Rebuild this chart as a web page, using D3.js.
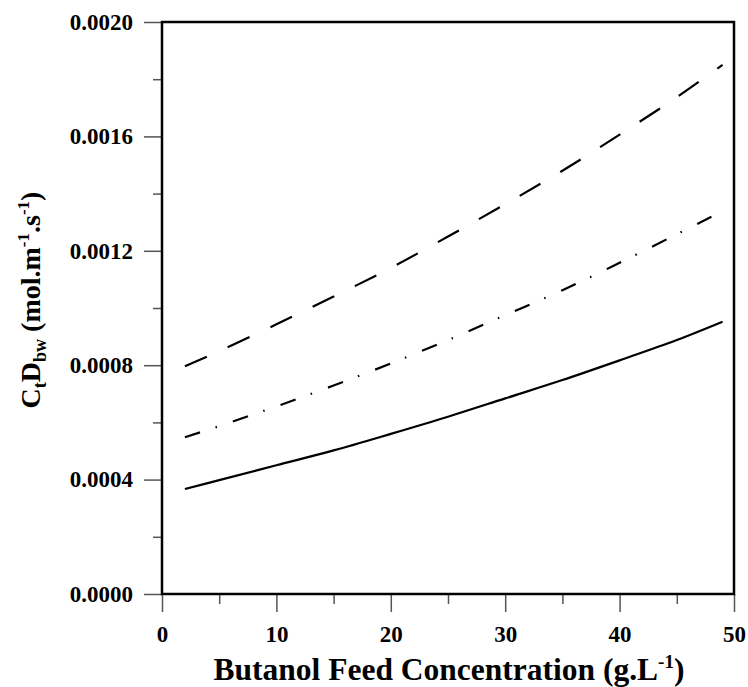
<!DOCTYPE html>
<html>
<head>
<meta charset="utf-8">
<script src="https://cdn.jsdelivr.net/npm/d3@7/dist/d3.min.js"></script>
<style>
  html, body { margin: 0; padding: 0; background: #fff; }
  svg { display: block; }
  text { font-family: "Liberation Serif", "Times New Roman", serif; font-weight: bold; fill: #000; }
</style>
</head>
<body>
<svg id="chart" width="748" height="687"></svg>
<script>
// ---- data ----
const feedConc = [2, 5, 10, 15, 20, 25, 30, 35, 40, 45, 49];
const dashedSeries  = [0.000796, 0.000849, 0.000943, 0.001040, 0.001140, 0.001250, 0.001363, 0.001480, 0.001606, 0.001737, 0.001850];
const dashDotSeries = [0.000548, 0.000587, 0.000656, 0.000729, 0.000806, 0.000888, 0.000975, 0.001062, 0.001158, 0.001258, 0.001339];
const solidSeries   = [0.000367, 0.000398, 0.000450, 0.000502, 0.000560, 0.000620, 0.000684, 0.000748, 0.000817, 0.000888, 0.000952];
const xTickValues = [0, 10, 20, 30, 40, 50];
const xMinorTicks = [5, 15, 25, 35, 45];
const yTickValues = [0, 0.0004, 0.0008, 0.0012, 0.0016, 0.0020];
const yMinorTicks = [0.0002, 0.0006, 0.0010, 0.0014, 0.0018];

const series = [
  { values: dashedSeries,  dash: "24,23" },
  { values: dashDotSeries, dash: "16,16,1.5,17" },
  { values: solidSeries,   dash: null }
];

// ---- layout ----
const svg = d3.select("#chart");
const mLeft = 162, mRight = 734, mTop = 22, mBottom = 594;

const x = d3.scaleLinear().domain([0, 50]).range([mLeft, mRight]);
const y = d3.scaleLinear().domain([0, 0.002]).range([mBottom, mTop]);

// minor ticks
svg.append("g")
  .attr("transform", `translate(0,${mBottom})`)
  .call(d3.axisBottom(x).tickValues(xMinorTicks).tickSize(10).tickFormat(""))
  .call(g => g.select(".domain").remove())
  .call(g => g.selectAll("line").attr("stroke", "#555").attr("stroke-width", 1.5));
svg.append("g")
  .attr("transform", `translate(${mLeft},0)`)
  .call(d3.axisLeft(y).tickValues(yMinorTicks).tickSize(9).tickFormat(""))
  .call(g => g.select(".domain").remove())
  .call(g => g.selectAll("line").attr("stroke", "#555").attr("stroke-width", 1.5));

// major ticks
const xAxis = svg.append("g")
  .attr("transform", `translate(0,${mBottom})`)
  .call(d3.axisBottom(x).tickValues(xTickValues).tickSize(18).tickPadding(14).tickFormat(d3.format("d")))
  .call(g => g.select(".domain").remove());
xAxis.selectAll("line").attr("stroke", "#555").attr("stroke-width", 1.5);
xAxis.selectAll("text").attr("font-size", 23).attr("font-family", "Liberation Serif").attr("font-weight", "bold").attr("fill", "#000");

const yAxis = svg.append("g")
  .attr("transform", `translate(${mLeft},0)`)
  .call(d3.axisLeft(y).tickValues(yTickValues).tickSize(18).tickPadding(11).tickFormat(d3.format(".4f")))
  .call(g => g.select(".domain").remove());
yAxis.selectAll("line").attr("stroke", "#555").attr("stroke-width", 1.5);
yAxis.selectAll("text").attr("font-size", 23).attr("font-family", "Liberation Serif").attr("font-weight", "bold").attr("fill", "#000");

// frame
svg.append("rect")
  .attr("x", mLeft).attr("y", mTop)
  .attr("width", mRight - mLeft).attr("height", mBottom - mTop)
  .attr("fill", "none").attr("stroke", "#000").attr("stroke-width", 2.5);

// lines
const line = d3.line()
  .x((d, i) => x(feedConc[i]))
  .y(d => y(d))
  .curve(d3.curveCatmullRom.alpha(0.5));

series.forEach(s => {
  svg.append("path")
    .datum(s.values)
    .attr("d", line)
    .attr("fill", "none")
    .attr("stroke", "#000")
    .attr("stroke-width", 2.2)
    .attr("stroke-dasharray", s.dash);
});

// x title
const xt = svg.append("text")
  .attr("x", 449)
  .attr("y", 680)
  .attr("text-anchor", "middle")
  .attr("font-size", 31.5);
xt.append("tspan").text("Butanol Feed Concentration (g.L");
xt.append("tspan").attr("font-size", 19).attr("dy", -12).text("-1");
xt.append("tspan").attr("dy", 12).text(")");

// y title
const yt = svg.append("text")
  .attr("transform", `translate(40,${(mTop + mBottom) / 2 - 8}) rotate(-90)`)
  .attr("text-anchor", "middle")
  .attr("font-size", 28);
yt.append("tspan").text("C");
yt.append("tspan").attr("font-size", 18).attr("dy", 6).text("t");
yt.append("tspan").attr("dy", -6).text("D");
yt.append("tspan").attr("font-size", 18).attr("dy", 6).text("bw");
yt.append("tspan").attr("dy", -6).text(" (mol.m");
yt.append("tspan").attr("font-size", 17).attr("dy", -11).text("-1");
yt.append("tspan").attr("dy", 11).text(".s");
yt.append("tspan").attr("font-size", 17).attr("dy", -11).text("-1");
yt.append("tspan").attr("dy", 11).text(")");
</script>
</body>
</html>
